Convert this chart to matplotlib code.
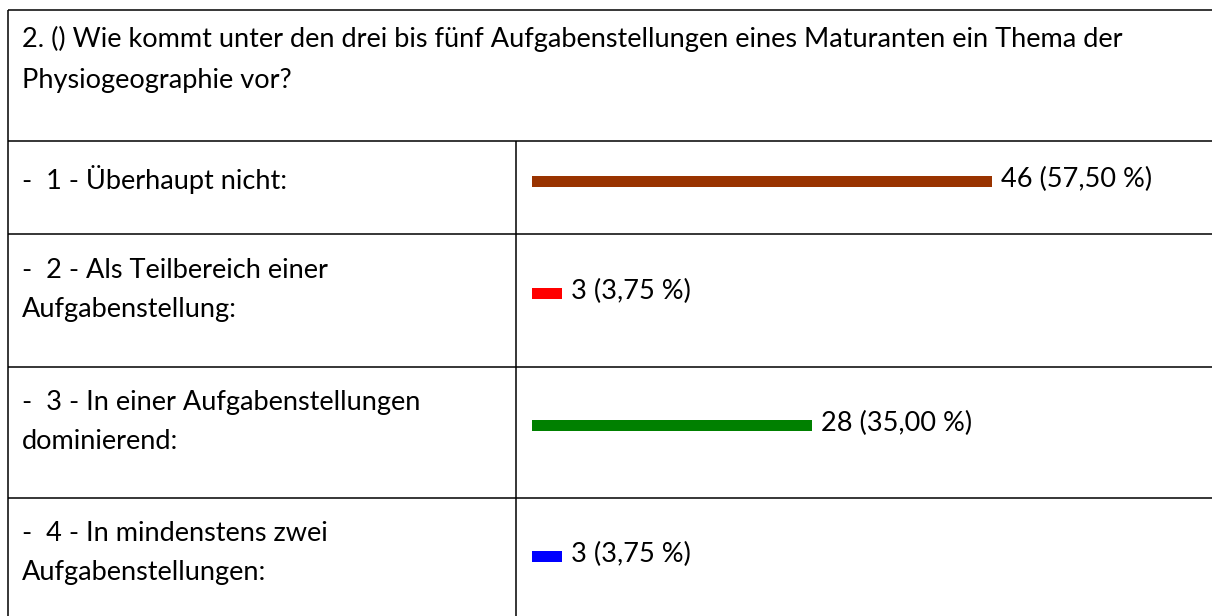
#!/usr/bin/env python3
"""Survey answer table with horizontal count bars (question 2)."""

import matplotlib

matplotlib.use("Agg")
import matplotlib.pyplot as plt


QUESTION = [
    "2. () Wie kommt unter den drei bis fünf Aufgabenstellungen eines Maturanten ein Thema der",
    "Physiogeographie vor?",
]
ANSWERS = [
    ["-  1 - Überhaupt nicht:"],
    ["-  2 - Als Teilbereich einer", "Aufgabenstellung:"],
    ["-  3 - In einer Aufgabenstellungen", "dominierend:"],
    ["-  4 - In mindenstens zwei", "Aufgabenstellungen:"],
]
COUNTS = [46, 3, 28, 3]
PERCENTS = [57.50, 3.75, 35.00, 3.75]
COLORS = ["#993300", "#FF0000", "#008000", "#0000FF"]

W, H = 1212, 616
FONT = "Lato"
FS = 19.5
LINE_GAP = 39

# table geometry in pixels (top of each row, last row runs off the bottom)
ROW_TOPS = [141, 234, 367, 498]
HEADER_TOP = 10
LEFT = 8
COL_X = 516
BAR_X = 532
PX_PER_UNIT = 10
BAR_H = 11
BAR_OFFSET = [35, 54, 53, 53]      # bar top relative to row top
LABEL_BASELINE = [48, 44, 43, 43]  # first text baseline relative to row top


def to_fig(x, y, w, h):
    return [x / W, 1 - (y + h) / H, w / W, h / H]


fig = plt.figure(figsize=(W / 100, H / 100), dpi=100)
base = fig.add_axes([0, 0, 1, 1])
base.set_xlim(0, W)
base.set_ylim(H, 0)
base.axis("off")

line_kw = dict(color="black", linewidth=1.1)
base.hlines([HEADER_TOP] + ROW_TOPS, LEFT, W, **line_kw)
base.vlines(LEFT, HEADER_TOP, H, **line_kw)
base.vlines(COL_X, ROW_TOPS[0], H, **line_kw)

text_kw = dict(fontsize=FS, family=FONT, va="baseline", ha="left", color="black")
for i, line in enumerate(QUESTION):
    base.text(22, HEADER_TOP + 37 + i * 41, line, **text_kw)

for r, lines in enumerate(ANSWERS):
    for i, line in enumerate(lines):
        base.text(22, ROW_TOPS[r] + LABEL_BASELINE[r] + i * LINE_GAP, line, **text_kw)

# one thin axis per row holding the bar, 10 px per answer
span = W - BAR_X
for r, (count, pct, color) in enumerate(zip(COUNTS, PERCENTS, COLORS)):
    ax = fig.add_axes(to_fig(BAR_X, ROW_TOPS[r] + BAR_OFFSET[r], span, BAR_H))
    ax.set_xlim(0, span / PX_PER_UNIT)
    ax.set_ylim(0.5, -0.5)
    ax.barh(0, count, height=1.0, color=color)
    label = f"{count} ({pct:.2f} %)".replace(".", ",")
    ax.text(count + 0.9, 0.5, label, clip_on=False, **text_kw)
    ax.axis("off")

fig.savefig("out.png", dpi=100)
plt.close(fig)
